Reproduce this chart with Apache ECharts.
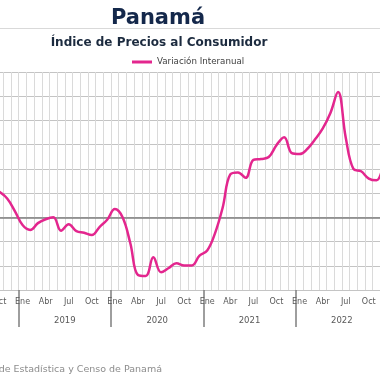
<!DOCTYPE html>
<html>
<head>
<meta charset="utf-8">
<script src="https://cdn.jsdelivr.net/npm/echarts@6/dist/echarts.min.js"></script>
<style>
html,body{margin:0;padding:0;background:#fff;}
#c{width:380px;height:380px;}
</style>
</head>
<body>
<div id="c"></div>
<script>
// Months from Oct 2018 to Dec 2022
const months = ['Oct','Nov','Dic',
  'Ene','Feb','Mar','Abr','May','Jun','Jul','Ago','Sep','Oct','Nov','Dic',
  'Ene','Feb','Mar','Abr','May','Jun','Jul','Ago','Sep','Oct','Nov','Dic',
  'Ene','Feb','Mar','Abr','May','Jun','Jul','Ago','Sep','Oct','Nov','Dic',
  'Ene','Feb','Mar','Abr','May','Jun','Jul','Ago','Sep','Oct','Nov','Dic'];
const years = ['2019','2020','2021','2022'];
// Variación interanual (%)
const variacion = [1.05, 0.78, 0.26,
  -0.32, -0.52, -0.24, -0.08, 0.0, -0.55, -0.29, -0.57, -0.64, -0.73, -0.40, -0.10,
  0.34, 0.0, -1.06, -2.38, -2.42, -1.65, -2.27, -2.09, -1.90, -1.99, -1.99, -1.58,
  -1.37, -0.67, 0.39, 1.77, 1.85, 1.63, 2.37, 2.41, 2.49, 2.98, 3.31, 2.65,
  2.61, 2.82, 3.21, 3.66, 4.30, 5.17, 3.30, 2.00, 1.90, 1.60, 1.53, 2.40];
const seriesName = 'Variación Interanual';
const titleText = 'Panamá';
const subtitleText = 'Índice de Precios al Consumidor';
const sourceText = 'Fuente: Instituto Nacional de Estadística y Censo de Panamá';

const firstYearOffset = months.indexOf('Ene'); // months before first January

const chart = echarts.init(document.getElementById('c'), null, {renderer: 'canvas'});
const option = {
  backgroundColor: '#ffffff',
  animation: false,
  textStyle: {fontFamily: 'DejaVu Sans'},
  legend: {
    data: [seriesName],
    left: 127,
    top: 52.5,
    itemWidth: 20,
    itemHeight: 3,
    icon: 'rect',
    textStyle: {fontFamily: 'DejaVu Sans', fontSize: 8.7, color: '#404040'}
  },
  grid: {
    left: -4.38,
    right: -8.02,
    top: 72,
    bottom: 90,
    containLabel: false,
    outerBoundsMode: 'none'
  },
  xAxis: [{
    type: 'category',
    data: months,
    boundaryGap: true,
    position: 'bottom',
    axisLine: {show: false, onZero: false},
    axisTick: {
      show: true,
      length: 37,
      interval: function (idx) { return months[idx] === 'Ene'; },
      lineStyle: {color: '#7f7f7f', width: 1.5}
    },
    axisLabel: {
      interval: 2,
      margin: 8,
      fontFamily: 'DejaVu Sans',
      fontSize: 8,
      color: '#595959'
    },
    splitLine: {show: true, interval: 0, lineStyle: {color: '#dadada', width: 1}}
  }, {
    type: 'value',
    position: 'bottom',
    min: 0,
    max: months.length,
    interval: 3,
    offset: 18.5,
    axisLine: {show: false, onZero: false},
    axisTick: {show: false},
    splitLine: {show: false},
    axisLabel: {
      margin: 8,
      fontFamily: 'DejaVu Sans',
      fontSize: 8.5,
      color: '#595959',
      showMinLabel: true,
      showMaxLabel: true,
      formatter: function (v) {
        const k = (v - firstYearOffset - 6) / 12;
        return (Number.isInteger(k) && years[k]) ? years[k] : '';
      }
    }
  }],
  yAxis: {
    type: 'value',
    min: -3,
    max: 6,
    interval: 1,
    axisLine: {show: false},
    axisTick: {show: false},
    axisLabel: {show: false},
    splitLine: {show: true, lineStyle: {color: '#c4c4c4', width: 1}}
  },
  series: [{
    name: seriesName,
    type: 'line',
    xAxisIndex: 0,
    data: variacion,
    smooth: 0.4,
    symbol: 'none',
    z: 5,
    lineStyle: {color: '#e3268e', width: 2.5},
    itemStyle: {color: '#e3268e'},
    markLine: {
      silent: true,
      symbol: 'none',
      z: 1,
      label: {show: false},
      lineStyle: {color: '#7f7f7f', width: 1.5, type: 'solid'},
      data: [{yAxis: 0}]
    }
  }],
  graphic: [
    {type: 'line', shape: {x1: 0, y1: 28.5, x2: 380, y2: 28.5}, style: {stroke: '#d9d9d9', lineWidth: 1}},
    {type: 'text', x: 158, y: 18.5, style: {text: titleText, font: 'bold 21px "DejaVu Sans"', fill: '#14284b', align: 'center', verticalAlign: 'middle'}},
    {type: 'text', x: 159, y: 43, style: {text: subtitleText, font: 'bold 12px "DejaVu Sans"', fill: '#1c2b3f', align: 'center', verticalAlign: 'middle'}},
    {type: 'text', x: 162, y: 369.5, style: {text: sourceText, font: '9.5px "DejaVu Sans"', fill: '#8c8c8c', align: 'right', verticalAlign: 'middle'}}
  ]
};
chart.setOption(option);
</script>
</body>
</html>
